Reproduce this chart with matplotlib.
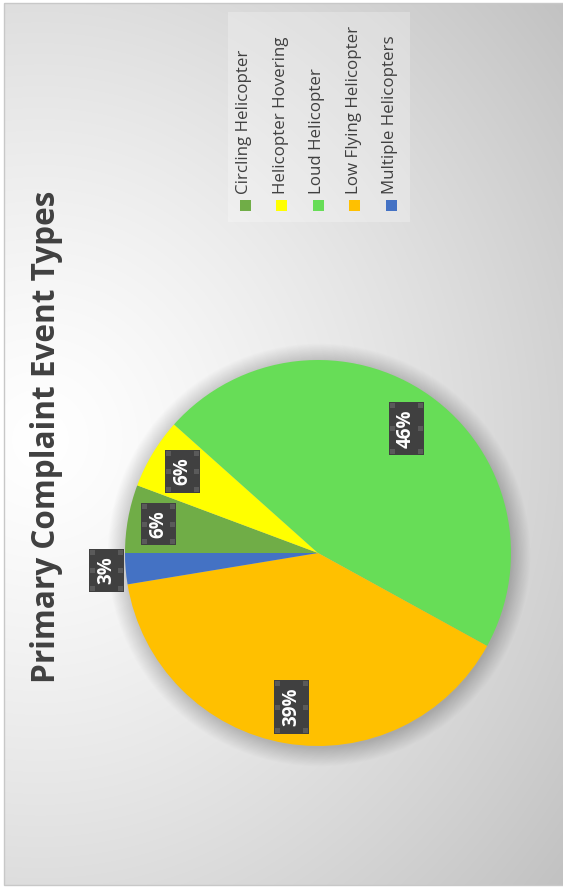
import matplotlib
matplotlib.use('Agg')
import matplotlib.pyplot as plt
from matplotlib.patches import Rectangle, Circle
from matplotlib.transforms import IdentityTransform
import numpy as np

# data (shares in %, Excel order, rotated chart)
categories = ['Circling Helicopter', 'Helicopter Hovering', 'Loud Helicopter',
              'Low Flying Helicopter', 'Multiple Helicopters']
shares = [5.7, 5.9, 46.4, 39.4, 2.6]
colors = ['#70AD47', '#FFFF00', '#67DD57', '#FFC000', '#4472C4']
title = 'Primary Complaint Event Types'

# label distance from centre (fraction of radius), Excel "best fit"
label_dist = [0.84, 0.82, 0.79, 0.81, 1.10]

W, H = 563, 888
cx, cy, r = 318, 553, 193

fig = plt.figure(figsize=(W / 100, H / 100), dpi=100)
fig.patch.set_facecolor('white')

# background in pixel coords (y down)
bg = fig.add_axes([0, 0, 1, 1])
bg.set_xlim(0, W)
bg.set_ylim(H, 0)
bg.axis('off')

yy, xx = np.mgrid[0:H, 0:W]
d = np.hypot(xx - 40, (yy - 440) * 0.95) / 690
shade = 1 - 0.25 * np.clip(d, 0, 1) ** 1.3
img = np.dstack([shade] * 3)
bg.imshow(img, extent=(0, W, H, 0), origin='upper', aspect='auto', zorder=0)
# white margin + thin border
bg.add_patch(Rectangle((0, 0), W, 3, fc='white', ec='none', zorder=1))
bg.add_patch(Rectangle((0, 0), 4, H, fc='white', ec='none', zorder=1))
bg.add_patch(Rectangle((0, 885), W, 5, fc='white', ec='none', zorder=1))
bg.add_patch(Rectangle((4, 3), W, 882, fc='none', ec='#c8c8c8', lw=1, zorder=2))

# soft shadow around the pie
for k in range(24):
    bg.add_patch(Circle((cx + 1, cy + 2), r + k * 0.8, fc='black', ec='none',
                        alpha=0.007, zorder=2))

# title (rotated like the source)
bg.text(47, 437, title, rotation=90, ha='center', va='center', fontsize=22.7,
        fontweight='bold', color='#404040', family=['Open Sans', 'DejaVu Sans'],
        zorder=5)

# legend drawn by hand since it is rotated
bg.add_patch(Rectangle((228, 12), 182, 210, fc='white', ec='none', alpha=0.25,
                       zorder=3))
for i, (name, col) in enumerate(zip(categories, colors)):
    x = 245 + 36.6 * i
    bg.add_patch(Rectangle((x - 5.5, 200), 11, 11, fc=col, ec='none', zorder=4))
    bg.text(x - 1, 194, name, rotation=90, ha='center', va='bottom',
            fontsize=12.2, color='#404040', family=['Open Sans', 'DejaVu Sans'],
            zorder=5)

# pie
pax = fig.add_axes([(cx - r) / W, 1 - (cy + r) / H, 2 * r / W, 2 * r / H])
wedges, _ = pax.pie(shares, colors=colors, startangle=180, counterclock=False,
                    radius=1, wedgeprops=dict(linewidth=0))
pax.set_xlim(-1, 1)
pax.set_ylim(-1, 1)
pax.axis('off')
pax.patch.set_visible(False)

labels = []
for w, s, dist in zip(wedges, shares, label_dist):
    th = np.deg2rad((w.theta1 + w.theta2) / 2)
    t = pax.text(dist * np.cos(th), dist * np.sin(th), f'{round(s)}%',
                 rotation=90, ha='center', va='center', fontsize=13.5,
                 fontweight='bold', color='white',
                 family=['Open Sans', 'DejaVu Sans'],
                 bbox=dict(boxstyle='square,pad=0.4', fc='#404040', ec='none'))
    labels.append(t)

# little selection handles on label boxes
fig.canvas.draw()
for t in labels:
    bb = t.get_bbox_patch().get_window_extent()
    hs = 5
    xs = [bb.x0 + 1, bb.x1 - hs - 1]
    ys = [bb.y0 + 1, (bb.y0 + bb.y1 - hs) / 2, bb.y1 - hs - 1]
    for hx in xs:
        for hy in ys:
            fig.add_artist(Rectangle((hx, hy), hs, hs, fc='#5a5a5a', ec='none',
                                     transform=IdentityTransform(), zorder=10))

fig.savefig('out.png', dpi=100)
plt.close(fig)
